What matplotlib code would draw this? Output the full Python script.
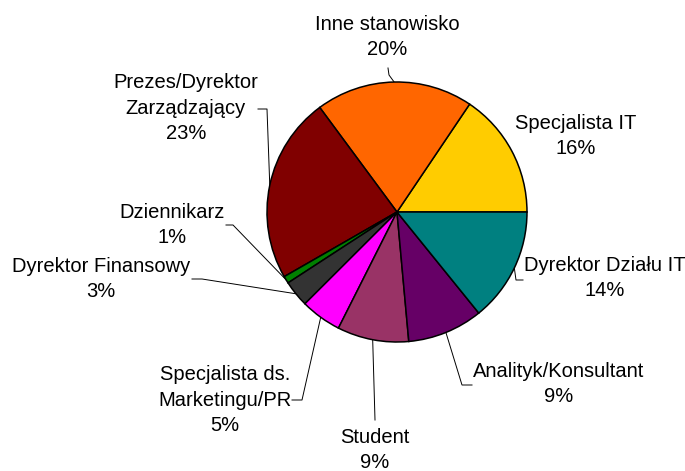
import numpy as np
import matplotlib
matplotlib.use("Agg")
import matplotlib.pyplot as plt

plt.rcParams['font.family'] = ['Liberation Sans', 'DejaVu Sans']

# slices, counter-clockwise from 3 o'clock
labels = ["Specjalista IT", "Inne stanowisko", "Prezes/Dyrektor\nZarządzający",
          "Dziennikarz", "Dyrektor Finansowy", "Specjalista ds.\nMarketingu/PR",
          "Student", "Analityk/Konsultant", "Dyrektor Działu IT"]
shares = [15.6, 19.6, 23.2, 0.9, 3.3, 5.1, 8.9, 9.4, 14.2]
pct_text = ["16%", "20%", "23%", "1%", "3%", "5%", "9%", "9%", "14%"]
colors = ["#FFCC00", "#FF6600", "#800000", "#008000", "#333333",
          "#FF00FF", "#993366", "#660066", "#008080"]

# label block centres (pixels, y from top)
label_xy = [(576, 136), (387, 37), (186, 108), (172, 225), (101, 279),
            (225, 400), (375, 450), (559, 384), (605, 278)]
# leader line elbows (pixels, y from top), ending at the wedge edge
leaders = [[], [(388, 68), (389, 75)], [(258, 109), (267, 109)],
           [(226, 225), (233, 225)], [(192, 279), (202, 279)],
           [(292, 400), (302, 400)], [(375, 420)], [(472, 385), (462, 385)],
           [(523, 280), (516, 280)]]

W, H = 685, 471
fig = plt.figure(figsize=(W / 100, H / 100), dpi=100)
ax = fig.add_axes([0, 0, 1, 1])

wedges, _ = ax.pie(shares, colors=colors, startangle=0, counterclock=True,
                   center=(397, H - 212), radius=130, frame=True,
                   wedgeprops=dict(edgecolor="black", linewidth=1.1))

for w, lab, pct, (lx, ly), pts in zip(wedges, labels, pct_text, label_xy, leaders):
    ax.text(lx, H - ly, lab + "\n" + pct, ha="center", va="center",
            multialignment="center", fontsize=14.5, linespacing=1.42)
    if pts:
        mid = np.deg2rad((w.theta1 + w.theta2) / 2)
        ex = w.center[0] + w.r * np.cos(mid)
        ey = w.center[1] + w.r * np.sin(mid)
        xs = [p[0] for p in pts] + [ex]
        ys = [H - p[1] for p in pts] + [ey]
        ax.plot(xs, ys, color="black", linewidth=0.7, zorder=0)

ax.set_xlim(0, W)
ax.set_ylim(0, H)
ax.set_aspect("equal")
ax.axis("off")
fig.savefig("out.png", dpi=100)
